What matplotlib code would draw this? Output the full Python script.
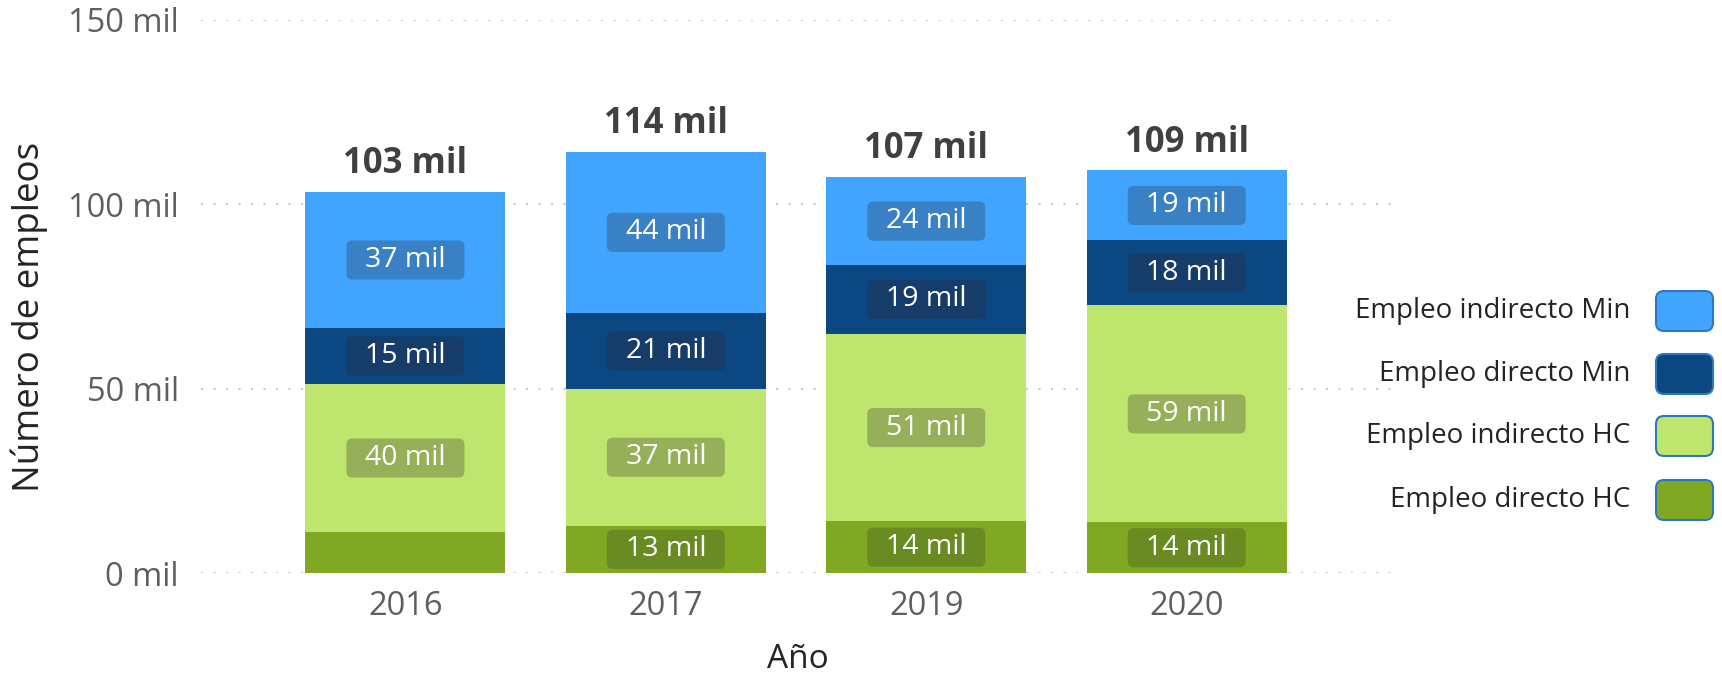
import matplotlib
matplotlib.use("Agg")
import matplotlib.pyplot as plt
from matplotlib.patches import FancyBboxPatch
import numpy as np

plt.rcParams['font.family'] = ['Open Sans', 'DejaVu Sans']

years = ["2016", "2017", "2019", "2020"]
series_names = ["Empleo directo HC", "Empleo indirecto HC", "Empleo directo Min", "Empleo indirecto Min"]
directo_hc = [11.2, 12.8, 14.0, 13.7]
indirecto_hc = [40.0, 37.2, 50.9, 58.9]
directo_min = [15.3, 20.6, 18.6, 17.6]
indirecto_min = [36.8, 43.6, 23.9, 19.0]
yticks = [0, 50, 100, 150]

bar_colors = ["#80A823", "#BEE66E", "#0B4780", "#41A4FF"]
box_colors = ["#6A8A22", "#96B05A", "#163D69", "#3A80C5"]

W, H = 1722, 677
fig = plt.figure(figsize=(W / 100, H / 100), dpi=100)
ax = fig.add_axes([201 / W, 1 - 573 / H, (1395 - 201) / W, (573 - 20) / H])

x = np.arange(len(years))
bw = 0.768
data = [directo_hc, indirecto_hc, directo_min, indirecto_min]
bottom = np.zeros(len(years))
xpx = (1395 - 201) / (0.785 + 3.8)
ypx = (573 - 20) / 150.0
for vals, col, bcol in zip(data, bar_colors, box_colors):
    vals = np.array(vals)
    ax.bar(x, vals, bw, bottom=bottom, color=col, edgecolor="none", zorder=2)
    for xi, v, b in zip(x, vals, bottom):
        if v >= 12:
            cy = b + v / 2
            bwid = 0.59 * bw
            bh = 10.6
            rs = 6 / xpx
            p = FancyBboxPatch((xi - bwid / 2, cy - bh / 2), bwid, bh,
                               boxstyle=f"round,pad=0,rounding_size={rs}",
                               mutation_aspect=xpx / ypx,
                               fc=bcol, ec="none", zorder=3)
            ax.add_patch(p)
            ax.text(xi, cy, f"{v:.0f} mil", ha="center", va="center",
                    color="white", fontsize=20.5, zorder=4)
    bottom = bottom + vals

for xi, t in zip(x, bottom):
    ax.annotate(f"{t:.0f} mil", (xi, t), xytext=(0, 7), textcoords="offset points",
                ha="center", va="bottom", fontsize=25, fontweight="bold", color="#404040")

ax.set_xlim(-0.785, 3.8)
ax.set_ylim(0, 150)
ax.set_yticks(yticks)
ax.set_yticklabels([f"{t} mil" for t in yticks])
ax.set_xticks(x)
ax.set_xticklabels(years)
ax.tick_params(axis="y", length=0, pad=16, labelsize=23.5, labelcolor="#605E5C")
ax.tick_params(axis="x", length=0, pad=12, labelsize=23.5, labelcolor="#605E5C")
for s in ax.spines.values():
    s.set_visible(False)
ax.grid(axis="y", linestyle=(0, (1, 5)), color="#C8C8C8", linewidth=1.5, zorder=0)
ax.set_axisbelow(True)

fig.text(798 / W, 1 - 659 / H, "Año", ha="center", va="center",
         fontsize=24, color="#252423")
fig.text(29 / W, 1 - 317 / H, "Número de empleos", ha="center", va="center",
         rotation=90, fontsize=26.5, color="#252423")

# Legend
leg_rows = [311, 374, 436, 500]
leg_order = [3, 2, 1, 0]
for ry, si in zip(leg_rows, leg_order):
    sw, sh = 57, 40
    p = FancyBboxPatch(((1656) / W, (H - ry - sh / 2) / H), sw / W, sh / H,
                       boxstyle=f"round,pad=0,rounding_size={8 / W}",
                       mutation_aspect=W / H,
                       transform=fig.transFigure, fc=bar_colors[si],
                       ec="#2F78C0", lw=1.5, figure=fig)
    fig.patches.append(p)
    fig.text(1630 / W, 1 - ry / H, series_names[si], ha="right", va="center",
             fontsize=20, color="#252423")

fig.savefig("out.png", dpi=100)
